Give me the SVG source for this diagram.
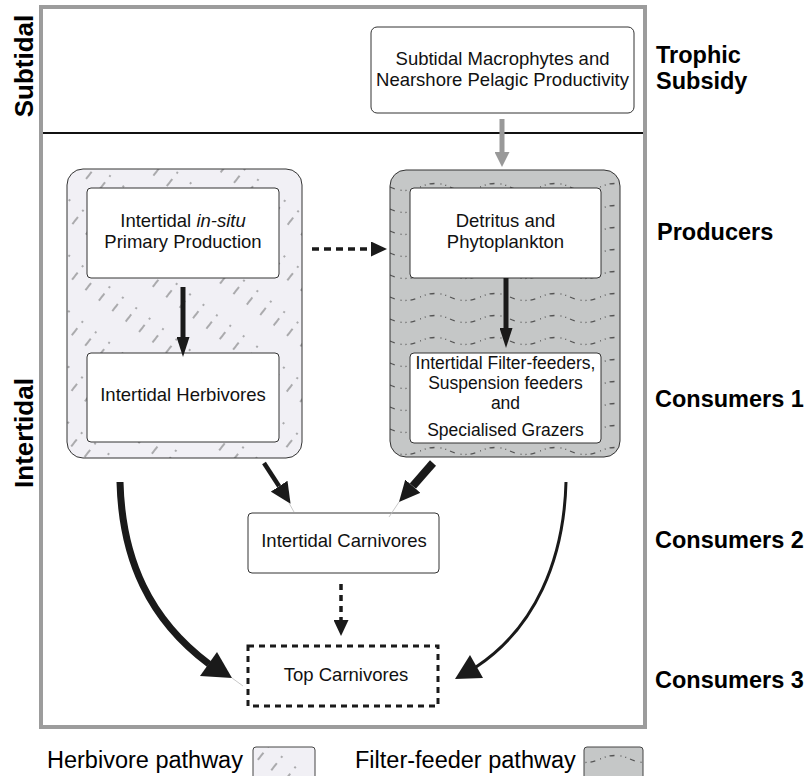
<svg xmlns="http://www.w3.org/2000/svg" width="810" height="776" viewBox="0 0 810 776">
<style>
.t{font-family:"Liberation Sans",Arial,sans-serif;font-size:18.5px;fill:#111;text-anchor:middle}
.lab{font-family:"Liberation Sans",Arial,sans-serif;font-size:23.5px;font-weight:bold;fill:#000}
.side{font-family:"Liberation Sans",Arial,sans-serif;font-size:26px;font-weight:bold;fill:#000;text-anchor:middle}
.leg{font-family:"Liberation Sans",Arial,sans-serif;font-size:23.5px;fill:#000}
.box{fill:#fff;stroke:#333;stroke-width:1}
.blk{stroke:#1a1a1a;fill:none}
.faint{stroke:#bbb;stroke-width:0.8;fill:none}
.head{fill:#1a1a1a}
</style>
<defs>
<pattern id="hatch" patternUnits="userSpaceOnUse" width="44" height="17" patternTransform="rotate(-52)">
<rect width="44" height="17" fill="#f1f0f5"/>
<line x1="0" y1="8" x2="44" y2="8" stroke="#555" stroke-width="0.9" stroke-dasharray="9 7 2 26"/>
</pattern>
<pattern id="dots" patternUnits="userSpaceOnUse" width="60" height="22">
<rect width="60" height="22" fill="#c5c7c7"/>
<path d="M0,11 Q15,4 30,11 T60,11" stroke="#555" stroke-width="1.3" fill="none" stroke-dasharray="1 4 1 4 5 6"/>
</pattern>
<marker id="ahS" markerUnits="userSpaceOnUse" viewBox="0 0 20 13" markerWidth="20" markerHeight="13" refX="0" refY="6.5" orient="auto"><path d="M0,0 L20,6.5 L0,13 Z" fill="#1a1a1a"/></marker>
<marker id="ahD" markerUnits="userSpaceOnUse" viewBox="0 0 21 20" markerWidth="21" markerHeight="20" refX="0" refY="10" orient="auto"><path d="M0,0 L21,10 L0,20 Z" fill="#1a1a1a"/></marker>
<marker id="ahDash" markerUnits="userSpaceOnUse" viewBox="0 0 16 15" markerWidth="16" markerHeight="15" refX="0" refY="7.5" orient="auto"><path d="M0,0 L16,7.5 L0,15 Z" fill="#1a1a1a"/></marker>
<marker id="ahG" markerUnits="userSpaceOnUse" viewBox="0 0 15 15" markerWidth="15" markerHeight="15" refX="0" refY="7.5" orient="auto"><path d="M0,0 L15,7.5 L0,15 Z" fill="#999"/></marker>
</defs>

<rect x="0" y="0" width="810" height="776" fill="#fff"/>

<g id="frame">
<rect x="41" y="7" width="604" height="720" fill="none" stroke="#9c9c9c" stroke-width="4"/>
<line x1="43" y1="133" x2="643" y2="133" stroke="#111" stroke-width="2"/>
<text class="side" transform="translate(33,66) rotate(-90)">Subtidal</text>
<text class="side" transform="translate(33,433) rotate(-90)">Intertidal</text>
</g>

<g id="levels">
<text class="lab" x="656" y="63">Trophic</text>
<text class="lab" x="656" y="89">Subsidy</text>
<text class="lab" x="657" y="240">Producers</text>
<text class="lab" x="655" y="407">Consumers 1</text>
<text class="lab" x="655" y="548">Consumers 2</text>
<text class="lab" x="655" y="688">Consumers 3</text>
</g>

<g id="herbivore-pathway">
<rect x="67" y="169" width="235" height="289" rx="16" fill="url(#hatch)" stroke="#333" stroke-width="1"/>
</g>
<g id="filter-pathway">
<rect x="390" y="170" width="230" height="287" rx="16" fill="url(#dots)" stroke="#333" stroke-width="1"/>
</g>

<g id="subtidal-macrophytes">
<rect class="box" x="371" y="27" width="263" height="86" rx="6"/>
<text class="t" x="502.5" y="65">Subtidal Macrophytes and</text>
<text class="t" x="502.5" y="86">Nearshore Pelagic Productivity</text>
</g>

<g id="primary-production">
<rect class="box" x="87" y="188" width="192" height="90" rx="4"/>
<text class="t" x="183" y="227">Intertidal <tspan font-style="italic">in-situ</tspan></text>
<text class="t" x="183" y="248">Primary Production</text>
</g>

<g id="herbivores">
<rect class="box" x="87" y="353" width="192" height="89" rx="4"/>
<text class="t" x="183" y="401">Intertidal Herbivores</text>
</g>

<g id="detritus">
<rect class="box" x="410" y="188" width="191" height="90" rx="4"/>
<text class="t" x="505.5" y="227">Detritus and</text>
<text class="t" x="505.5" y="248">Phytoplankton</text>
</g>

<g id="filter-feeders">
<rect class="box" x="410" y="353" width="191" height="90" rx="4"/>
<text class="t" style="font-size:17.5px"><tspan x="505.5" y="369">Intertidal Filter-feeders,</tspan><tspan x="505.5" y="389">Suspension feeders</tspan><tspan x="505.5" y="409">and</tspan><tspan x="505.5" y="436">Specialised Grazers</tspan></text>
</g>

<g id="intertidal-carnivores">
<rect class="box" x="248" y="513" width="191" height="60" rx="4"/>
<text class="t" x="344" y="547">Intertidal Carnivores</text>
</g>

<g id="top-carnivores">
<rect x="248" y="646" width="190" height="60" fill="#fff" stroke="#1a1a1a" stroke-width="3" stroke-dasharray="6 5"/>
<text class="t" x="346" y="681">Top Carnivores</text>
</g>

<g id="connectors">
<line x1="502" y1="119" x2="502" y2="152" stroke="#999" stroke-width="5" marker-end="url(#ahG)"/>
<line class="blk" x1="183" y1="287" x2="183" y2="337" stroke-width="5" marker-end="url(#ahS)"/>
<line class="blk" x1="506" y1="278" x2="506" y2="328" stroke-width="5" marker-end="url(#ahS)"/>
<line class="blk" x1="312" y1="249" x2="371" y2="249" stroke-width="3.5" stroke-dasharray="7 5" marker-end="url(#ahDash)"/>
<line class="blk" x1="264" y1="463" x2="279.1" y2="486.2" stroke-width="4.5" marker-end="url(#ahD)"/>
<line class="faint" x1="289" y1="503" x2="294" y2="512"/>
<line class="blk" x1="433" y1="463" x2="412.8" y2="486.2" stroke-width="8" marker-end="url(#ahD)"/>
<line class="faint" x1="399" y1="502" x2="389" y2="517"/>
<line class="blk" x1="341" y1="584" x2="341" y2="620" stroke-width="3.5" stroke-dasharray="6 5" marker-end="url(#ahDash)"/>
<path class="blk" d="M120,482 C122,560 150,620 209,664" stroke-width="7"/>
<polygon class="head" points="232,678 200,676 217,652"/>
<line class="faint" x1="232" y1="678" x2="243" y2="686"/>
<path class="blk" d="M566,482 C564,560 535,628 476,667" stroke-width="3"/>
<polygon class="head" points="455,679 470,655 483,678"/>
</g>

<g id="legend">
<text class="leg" x="47" y="768">Herbivore pathway</text>
<rect x="253" y="747" width="62" height="36" rx="3" fill="url(#hatch)" stroke="#444" stroke-width="1"/>
<text class="leg" x="355" y="768">Filter-feeder pathway</text>
<rect x="584" y="747" width="59" height="36" rx="3" fill="url(#dots)" stroke="#444" stroke-width="1"/>
</g>
</svg>
